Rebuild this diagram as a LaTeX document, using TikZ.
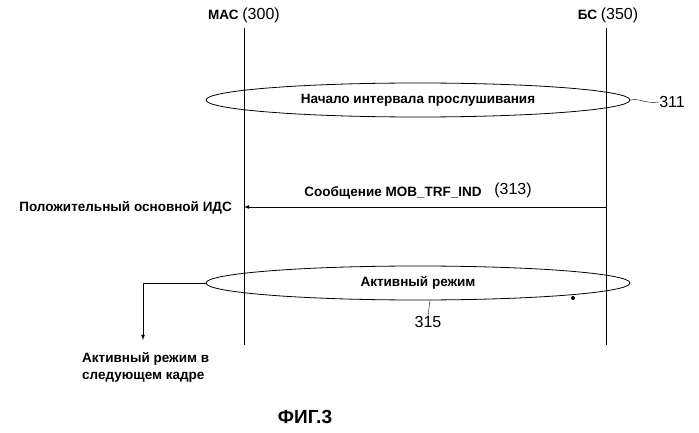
\documentclass[tikz,border=0pt]{standalone}
\usepackage{fontspec}
\setmainfont{Liberation Sans}
\usetikzlibrary{arrows}
\usetikzlibrary{shapes}
\usetikzlibrary{positioning}
\tikzstyle{phase} = [
    ellipse,
    draw=black,
    thick,
    minimum width=424pt,
    minimum height=34pt,
    inner sep=0pt,
    font=\bfseries\fontsize{13.5}{16}\selectfont
]
\tikzstyle{msg}  = [
    draw,
    thick,
    ->,
    >=latex
]
\tikzstyle{lbl}   = [inner sep=0pt, font=\bfseries\fontsize{13.5}{17}\selectfont]
\tikzstyle{ref}   = [inner sep=0pt, font=\fontsize{16}{18}\selectfont]

\begin{document}
\begin{tikzpicture}[x=1pt, y=-1pt]
\useasboundingbox (0,0) rectangle (699,433);

\node[lbl] (mac)   at (244,15)  {МАС \textmd{\fontsize{16}{18}\selectfont(300)}};
\node[lbl] (bs)    at (608,15)  {БС \textmd{\fontsize{16}{18}\selectfont(350)}};
\coordinate (macend) at (244,345);
\coordinate (bsend)  at (606,345);
\draw[thin] (244,28) -- (macend);
\draw[thin] (606,28) -- (bsend);

\node[phase] (listen) at (418,100) {Начало интервала прослушивания};
\node[ref]   (n311)   at (672,102) {311};
\draw (listen.east) .. controls (640,98) and (645,104) .. (n311.west);

\coordinate (bsmsg)  at (606,207);
\coordinate (macmsg) at (244,207);
\draw[msg] (bsmsg) -- (macmsg);
\node[lbl] (trf)   at (393,193) {Сообщение MOB\_TRF\_IND};
\node[ref] (n313)  at (513,190) {(313)};
\node[lbl, anchor=east] (ids) at (232,208) {Положительный основной ИДС};

\node[phase] (active) at (418,283) {Активный режим};
\node[ref]   (n315)   at (428,322) {315};
\draw (active.south) ++(12,0) -- (n315.north);
\fill (573,298) circle (2pt);

\coordinate (bend) at (143,283);
\coordinate (next) at (143,340);
\draw[msg] (active.west) -- (bend) -- (next);
\node[lbl, anchor=north west, align=left] (nextlbl) at (82,352) {Активный режим в\\следующем кадре};

\node[inner sep=0pt, font=\bfseries\fontsize{19}{22}\selectfont] (fig) at (305,417) {ФИГ.3};

\end{tikzpicture}
\end{document}
